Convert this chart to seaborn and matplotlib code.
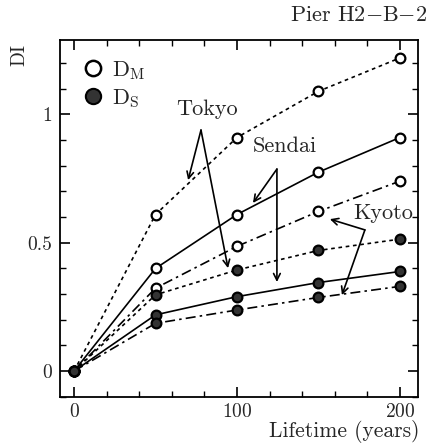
import numpy as np
import pandas as pd
import matplotlib
matplotlib.use('Agg')
import matplotlib.pyplot as plt
import seaborn as sns
from matplotlib.ticker import MultipleLocator

# lifetime (years) and damage index values
years = [0, 50, 100, 150, 200]
tokyo_dm = [0, 0.61, 0.91, 1.09, 1.22]
sendai_dm = [0, 0.40, 0.61, 0.775, 0.91]
kyoto_dm = [0, 0.323, 0.486, 0.622, 0.74]
tokyo_ds = [0, 0.297, 0.394, 0.47, 0.514]
sendai_ds = [0, 0.219, 0.29, 0.345, 0.388]
kyoto_ds = [0, 0.186, 0.238, 0.287, 0.33]

sns.set_theme(style='ticks')
plt.rcParams['font.family'] = ['cmr10', 'DejaVu Serif']
plt.rcParams['mathtext.fontset'] = 'cm'
plt.rcParams['axes.formatter.use_mathtext'] = True

fig = plt.figure(figsize=(4.29, 4.43), dpi=100)
ax = fig.add_axes([0.14, 0.1038, 0.834, 0.806])

styles = {'Tokyo': (0, (2.2, 2.2)), 'Sendai': '-', 'Kyoto': (0, (6, 2.5, 1.5, 2.5))}
series = [
    ('Tokyo', tokyo_dm, 'white'), ('Sendai', sendai_dm, 'white'), ('Kyoto', kyoto_dm, 'white'),
    ('Tokyo', tokyo_ds, '#333333'), ('Sendai', sendai_ds, '#333333'), ('Kyoto', kyoto_ds, '#333333'),
]
for city, vals, fc in series:
    df = pd.DataFrame({'year': years, 'DI': vals})
    sns.lineplot(data=df, x='year', y='DI', ax=ax, color='black', linestyle=styles[city],
                 linewidth=1.2, marker='o', markersize=7, markerfacecolor=fc,
                 markeredgecolor='black', markeredgewidth=1.6)

ax.set_xlim(-8.6, 211)
ax.set_ylim(-0.101, 1.29)
ax.set_xticks([0, 100, 200])
ax.set_yticks([0, 0.5, 1])
ax.set_yticklabels(['0', '0.5', '1'])
ax.xaxis.set_minor_locator(MultipleLocator(20))
ax.yaxis.set_minor_locator(MultipleLocator(0.1))
ax.tick_params(which='both', direction='in', top=True, right=True, color='black', labelsize=14)
ax.tick_params(axis='x', pad=4)
ax.tick_params(axis='y', pad=6)
ax.tick_params(which='major', length=7, width=1.2)
ax.tick_params(which='minor', length=4, width=1.0)
for s in ax.spines.values():
    s.set_linewidth(1.3)
    s.set_color('black')
ax.set_xlabel('')
ax.set_ylabel('')

fig.text(0.045, 0.875, 'DI', rotation=90, fontsize=14, ha='center', va='center')
ax.text(212, -0.236, 'Lifetime (years)', ha='right', va='center', fontsize=15.5)
fig.text(0.997, 0.965, r'Pier H2$-$B$-$2', ha='right', va='center', fontsize=16)

# legend drawn as markers
ax.plot([11.7], [1.181], 'o', ms=11, mfc='white', mec='black', mew=1.8)
ax.plot([11.7], [1.072], 'o', ms=11, mfc='#333333', mec='black', mew=1.5)
ax.text(23, 1.172, r'$\mathrm{D_M}$', fontsize=16, va='center')
ax.text(23, 1.063, r'$\mathrm{D_S}$', fontsize=16, va='center')

arrow = dict(arrowstyle='->', color='black', lw=1.2, shrinkA=0, shrinkB=0)
ax.text(81.6, 1.02, 'Tokyo', fontsize=16, ha='center', va='center')
ax.annotate('', xy=(70, 0.744), xytext=(77.9, 0.939), arrowprops=arrow)
ax.annotate('', xy=(94.5, 0.401), xytext=(77.9, 0.939), arrowprops=arrow)
ax.text(129.5, 0.875, 'Sendai', fontsize=16, ha='center', va='center')
ax.annotate('', xy=(109.8, 0.655), xytext=(124.5, 0.787), arrowprops=arrow)
ax.annotate('', xy=(124.5, 0.347), xytext=(124.5, 0.787), arrowprops=arrow)
ax.text(190, 0.616, 'Kyoto', fontsize=16, ha='center', va='center')
ax.annotate('', xy=(157, 0.592), xytext=(178.5, 0.55), arrowprops=arrow)
ax.annotate('', xy=(164.4, 0.296), xytext=(178.5, 0.55), arrowprops=arrow)

fig.savefig('out.png', dpi=100)
